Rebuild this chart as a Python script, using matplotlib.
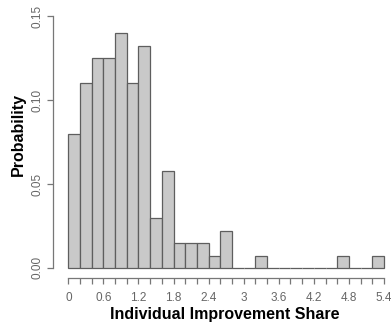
import numpy as np
import matplotlib.pyplot as plt

plt.rcParams['font.family'] = ['Liberation Sans', 'DejaVu Sans']

# histogram of individual improvement share, bins of width 0.2
bin_edges = np.round(np.arange(0, 5.41, 0.2), 2)
probabilities = [0.080, 0.110, 0.125, 0.125, 0.140, 0.110, 0.132, 0.030, 0.058,
                 0.015, 0.015, 0.015, 0.007, 0.022, 0.0, 0.0, 0.007, 0.0,
                 0.0, 0.0, 0.0, 0.0, 0.0, 0.007, 0.0, 0.0, 0.007]
x_labels = [0, 0.6, 1.2, 1.8, 2.4, 3, 3.6, 4.2, 4.8, 5.4]
y_ticks = [0.00, 0.05, 0.10, 0.15]

fig = plt.figure(figsize=(3.91, 3.27), dpi=100)
ax = fig.add_axes([53 / 391, 1 - 278 / 327, 335 / 391, 268 / 327])

widths = np.diff(bin_edges)
ax.bar(bin_edges[:-1], probabilities, width=widths, align='edge',
       color='#c9c9c9', edgecolor='#5e5e5e', linewidth=0.9)

ax.set_xlim(-0.262, 5.468)
ax.set_ylim(-0.006, 0.1536)

for side in ['top', 'right']:
    ax.spines[side].set_visible(False)
for side in ['left', 'bottom']:
    ax.spines[side].set_color('#777777')
    ax.spines[side].set_linewidth(0.9)
ax.spines['left'].set_bounds(0, 0.15)
ax.spines['bottom'].set_bounds(0, 5.4)

ax.set_xticks(bin_edges)
ax.set_xticklabels(['%g' % v if any(abs(v - l) < 1e-6 for l in x_labels) else ''
                    for v in bin_edges])
ax.set_yticks(y_ticks)
ax.set_yticklabels(['0.00', '0.05', '0.10', '0.15'], rotation=90, va='center')
ax.tick_params(colors='#777777', labelcolor='#666666', labelsize=8.5,
               length=4, width=0.9)
ax.tick_params(axis='x', pad=6)
ax.tick_params(axis='y', pad=3)

ax.set_xlabel('Individual Improvement Share', fontsize=11.5, fontweight='bold')
ax.set_ylabel('Probability', fontsize=11.5, fontweight='bold')
ax.xaxis.set_label_coords(0.5 + (225 - 220.5) / 335, -36 / 268)
ax.yaxis.set_label_coords(-35 / 335, (278 - 135) / 268)
ax.xaxis.label.set_va('center')
ax.yaxis.label.set_va('center')

fig.savefig('out.png', dpi=100)
